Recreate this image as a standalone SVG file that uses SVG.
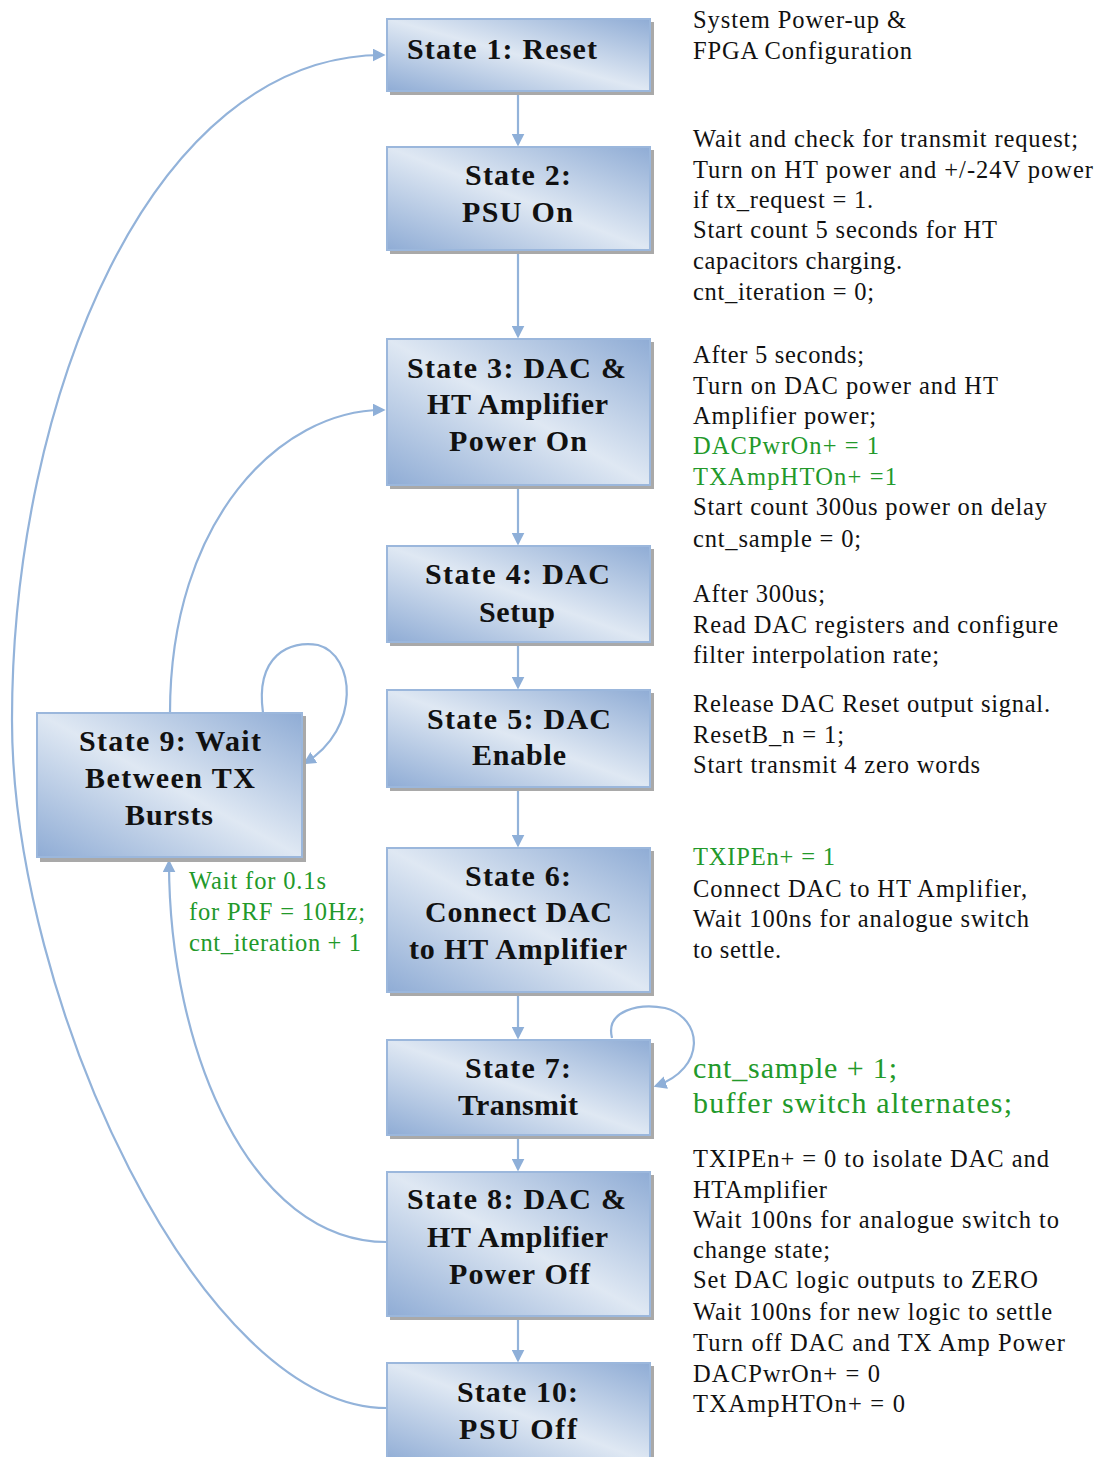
<svg xmlns="http://www.w3.org/2000/svg" width="1103" height="1457" viewBox="0 0 1103 1457">
<style>
.box{fill:url(#g);stroke:#9bb7dc;stroke-width:2}
.sh{fill:#a9a9a9}
.bt{font-family:"Liberation Serif",serif;font-weight:bold;font-size:30px;fill:#111}
.rt{font-family:"Liberation Serif",serif;font-size:24.5px;fill:#111}
.gr{fill:#22992a}
.big{font-size:30px}
.c{fill:none;stroke:#93b3da;stroke-width:2.2}
</style>
<defs>
<linearGradient id="g" x1="1" y1="0" x2="0" y2="1">
<stop offset="0" stop-color="#8facd5"/>
<stop offset="0.5" stop-color="#dfe8f3"/>
<stop offset="1" stop-color="#8facd5"/>
</linearGradient>
<marker id="a" viewBox="0 0 10 10" refX="8" refY="5" markerUnits="userSpaceOnUse" markerWidth="13" markerHeight="13" orient="auto">
<path d="M0,0 L10,5 L0,10 z" fill="#8eafd8"/>
</marker>
</defs>

<g id="connectors">
<line class="c" x1="518" y1="92" x2="518" y2="144" marker-end="url(#a)"/>
<line class="c" x1="518" y1="251" x2="518" y2="336" marker-end="url(#a)"/>
<line class="c" x1="518" y1="486" x2="518" y2="543" marker-end="url(#a)"/>
<line class="c" x1="518" y1="643" x2="518" y2="687" marker-end="url(#a)"/>
<line class="c" x1="518" y1="788" x2="518" y2="845" marker-end="url(#a)"/>
<line class="c" x1="518" y1="993" x2="518" y2="1037" marker-end="url(#a)"/>
<line class="c" x1="518" y1="1136" x2="518" y2="1169" marker-end="url(#a)"/>
<line class="c" x1="518" y1="1317" x2="518" y2="1360" marker-end="url(#a)"/>
<path class="c" d="M387,1408 C200,1408 12,1000 12,720 C12,400 150,55 383,55" marker-end="url(#a)"/>
<path class="c" d="M387,1242 C250,1242 169,1050 169,862" marker-end="url(#a)"/>
<path class="c" d="M170,713 C170,520 280,410 383,410" marker-end="url(#a)"/>
<path class="c" d="M263,713 C255,655 290,640 318,645 C355,655 362,728 305,763" marker-end="url(#a)"/>
<path class="c" d="M612,1038 C605,1010 640,1003 665,1008 C703,1018 707,1068 656,1086" marker-end="url(#a)"/>
</g>

<g id="s1"><rect class="sh" x="390" y="22" width="264" height="73"/><rect class="box" x="387" y="19" width="263" height="72"/>
<text class="bt" x="407" y="59" textLength="190" lengthAdjust="spacing">State 1: Reset</text></g>
<g id="s2"><rect class="sh" x="390" y="150" width="264" height="104"/><rect class="box" x="387" y="147" width="263" height="103"/>
<text class="bt" x="465" y="185" textLength="106" lengthAdjust="spacing">State 2:</text>
<text class="bt" x="462" y="222" textLength="111" lengthAdjust="spacing">PSU On</text></g>
<g id="s3"><rect class="sh" x="390" y="342" width="264" height="147"/><rect class="box" x="387" y="339" width="263" height="146"/>
<text class="bt" x="407" y="378" textLength="219" lengthAdjust="spacing">State 3: DAC &amp;</text>
<text class="bt" x="427" y="414" textLength="181" lengthAdjust="spacing">HT Amplifier</text>
<text class="bt" x="449" y="451" textLength="138" lengthAdjust="spacing">Power On</text></g>
<g id="s4"><rect class="sh" x="390" y="549" width="264" height="97"/><rect class="box" x="387" y="546" width="263" height="96"/>
<text class="bt" x="425" y="584" textLength="185" lengthAdjust="spacing">State 4: DAC</text>
<text class="bt" x="479" y="622" textLength="76" lengthAdjust="spacing">Setup</text></g>
<g id="s5"><rect class="sh" x="390" y="693" width="264" height="98"/><rect class="box" x="387" y="690" width="263" height="97"/>
<text class="bt" x="427" y="729" textLength="184" lengthAdjust="spacing">State 5: DAC</text>
<text class="bt" x="472" y="765" textLength="94" lengthAdjust="spacing">Enable</text></g>
<g id="s6"><rect class="sh" x="390" y="851" width="264" height="145"/><rect class="box" x="387" y="848" width="263" height="144"/>
<text class="bt" x="465" y="886" textLength="106" lengthAdjust="spacing">State 6:</text>
<text class="bt" x="425" y="922" textLength="187" lengthAdjust="spacing">Connect DAC</text>
<text class="bt" x="409" y="959" textLength="218" lengthAdjust="spacing">to HT Amplifier</text></g>
<g id="s7"><rect class="sh" x="390" y="1043" width="264" height="96"/><rect class="box" x="387" y="1040" width="263" height="95"/>
<text class="bt" x="465" y="1078" textLength="106" lengthAdjust="spacing">State 7:</text>
<text class="bt" x="458" y="1115" textLength="120" lengthAdjust="spacing">Transmit</text></g>
<g id="s8"><rect class="sh" x="390" y="1175" width="264" height="145"/><rect class="box" x="387" y="1172" width="263" height="144"/>
<text class="bt" x="407" y="1209" textLength="219" lengthAdjust="spacing">State 8: DAC &amp;</text>
<text class="bt" x="427" y="1247" textLength="181" lengthAdjust="spacing">HT Amplifier</text>
<text class="bt" x="449" y="1284" textLength="141" lengthAdjust="spacing">Power Off</text></g>
<g id="s10"><rect class="sh" x="390" y="1366" width="264" height="100"/><rect class="box" x="387" y="1363" width="263" height="100"/>
<text class="bt" x="457" y="1402" textLength="121" lengthAdjust="spacing">State 10:</text>
<text class="bt" x="459" y="1439" textLength="118" lengthAdjust="spacing">PSU Off</text></g>
<g id="s9"><rect class="sh" x="40" y="716" width="266" height="146"/><rect class="box" x="37" y="713" width="265" height="144"/>
<text class="bt" x="79" y="751" textLength="182" lengthAdjust="spacing">State 9: Wait</text>
<text class="bt" x="85" y="788" textLength="170" lengthAdjust="spacing">Between TX</text>
<text class="bt" x="125" y="825" textLength="88" lengthAdjust="spacing">Bursts</text></g>

<g id="notes">
<text class="rt" x="693" y="28" textLength="213" lengthAdjust="spacing">System Power-up &amp;</text>
<text class="rt" x="693" y="59" textLength="219" lengthAdjust="spacing">FPGA Configuration</text>
<text class="rt" x="693" y="147" textLength="385" lengthAdjust="spacing">Wait and check for transmit request;</text>
<text class="rt" x="693" y="178" textLength="400" lengthAdjust="spacing">Turn on HT power and +/-24V power</text>
<text class="rt" x="693" y="208" textLength="180" lengthAdjust="spacing">if tx_request = 1.</text>
<text class="rt" x="693" y="238" textLength="304" lengthAdjust="spacing">Start count 5 seconds for HT</text>
<text class="rt" x="693" y="269" textLength="209" lengthAdjust="spacing">capacitors charging.</text>
<text class="rt" x="693" y="300" textLength="181" lengthAdjust="spacing">cnt_iteration = 0;</text>
<text class="rt" x="693" y="363" textLength="171" lengthAdjust="spacing">After 5 seconds;</text>
<text class="rt" x="693" y="394" textLength="305" lengthAdjust="spacing">Turn on DAC power and HT</text>
<text class="rt" x="693" y="424" textLength="183" lengthAdjust="spacing">Amplifier power;</text>
<text class="rt gr" x="693" y="454" textLength="186" lengthAdjust="spacing">DACPwrOn+ = 1</text>
<text class="rt gr" x="693" y="485" textLength="204" lengthAdjust="spacing">TXAmpHTOn+ =1</text>
<text class="rt" x="693" y="515" textLength="354" lengthAdjust="spacing">Start count 300us power on delay</text>
<text class="rt" x="693" y="547" textLength="168" lengthAdjust="spacing">cnt_sample = 0;</text>
<text class="rt" x="693" y="602" textLength="132" lengthAdjust="spacing">After 300us;</text>
<text class="rt" x="693" y="633" textLength="365" lengthAdjust="spacing">Read DAC registers and configure</text>
<text class="rt" x="693" y="663" textLength="246" lengthAdjust="spacing">filter interpolation rate;</text>
<text class="rt" x="693" y="712" textLength="357" lengthAdjust="spacing">Release DAC Reset output signal.</text>
<text class="rt" x="693" y="743" textLength="151" lengthAdjust="spacing">ResetB_n = 1;</text>
<text class="rt" x="693" y="773" textLength="287" lengthAdjust="spacing">Start transmit 4 zero words</text>
<text class="rt gr" x="693" y="865" textLength="142" lengthAdjust="spacing">TXIPEn+ = 1</text>
<text class="rt" x="693" y="897" textLength="334" lengthAdjust="spacing">Connect DAC to HT Amplifier,</text>
<text class="rt" x="693" y="927" textLength="336" lengthAdjust="spacing">Wait 100ns for analogue switch</text>
<text class="rt" x="693" y="958" textLength="88" lengthAdjust="spacing">to settle.</text>
<text class="rt gr big" x="693" y="1078" textLength="204" lengthAdjust="spacing">cnt_sample + 1;</text>
<text class="rt gr big" x="693" y="1113" textLength="319" lengthAdjust="spacing">buffer switch alternates;</text>
<text class="rt" x="693" y="1167" textLength="356" lengthAdjust="spacing">TXIPEn+ = 0 to isolate DAC and</text>
<text class="rt" x="693" y="1198" textLength="134" lengthAdjust="spacing">HTAmplifier</text>
<text class="rt" x="693" y="1228" textLength="366" lengthAdjust="spacing">Wait 100ns for analogue switch to</text>
<text class="rt" x="693" y="1258" textLength="137" lengthAdjust="spacing">change state;</text>
<text class="rt" x="693" y="1288" textLength="345" lengthAdjust="spacing">Set DAC logic outputs to ZERO</text>
<text class="rt" x="693" y="1320" textLength="359" lengthAdjust="spacing">Wait 100ns for new logic to settle</text>
<text class="rt" x="693" y="1351" textLength="372" lengthAdjust="spacing">Turn off DAC and TX Amp Power</text>
<text class="rt" x="693" y="1382" textLength="187" lengthAdjust="spacing">DACPwrOn+ = 0</text>
<text class="rt" x="693" y="1412" textLength="212" lengthAdjust="spacing">TXAmpHTOn+ = 0</text>
<text class="rt gr" x="189" y="889" textLength="137" lengthAdjust="spacing">Wait for 0.1s</text>
<text class="rt gr" x="189" y="920" textLength="176" lengthAdjust="spacing">for PRF = 10Hz;</text>
<text class="rt gr" x="189" y="951" textLength="172" lengthAdjust="spacing">cnt_iteration + 1</text>
</g>
</svg>
